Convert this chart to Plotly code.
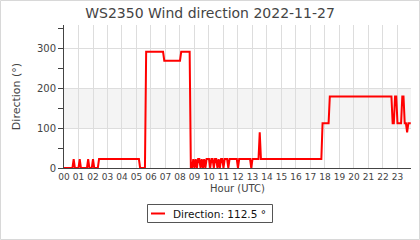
import plotly.graph_objects as go

DAY = "2022-11-27"
times = [
    "00:00", "00:35", "00:40", "00:45", "01:00", "01:05", "01:10", "01:35", "01:40", "01:45",
    "01:55", "02:00", "02:05", "02:20", "02:25", "05:10", "05:15", "05:35", "05:40", "06:50",
    "06:55", "08:00", "08:05", "08:40", "08:45", "08:50", "08:55", "09:00", "09:05", "09:10",
    "09:15", "09:20", "09:25", "09:30", "09:35", "09:40", "09:45", "09:50", "10:00", "10:05",
    "10:10", "10:15", "10:20", "10:25", "10:30", "10:35", "10:40", "10:45", "10:50", "10:55",
    "11:00", "11:05", "11:15", "11:20", "11:25", "11:55", "12:00", "12:05", "12:50", "12:55",
    "13:00", "13:25", "13:30", "13:35", "17:45", "17:50", "18:15", "18:20", "22:35", "22:40",
    "22:45", "22:50", "22:55", "23:00", "23:15", "23:20", "23:25", "23:30", "23:35", "23:40",
    "23:45", "23:55",
]
direction = [
    0, 0, 22.5, 0, 0, 22.5, 0, 0, 22.5, 0,
    0, 22.5, 0, 0, 22.5, 22.5, 0, 0, 292.5, 292.5,
    270, 270, 292.5, 292.5, 0, 0, 22.5, 0, 22.5, 0,
    22.5, 22.5, 0, 22.5, 0, 22.5, 0, 22.5, 22.5, 0,
    22.5, 22.5, 0, 22.5, 22.5, 0, 22.5, 0, 22.5, 22.5,
    0, 22.5, 22.5, 0, 22.5, 22.5, 0, 22.5, 22.5, 0,
    22.5, 22.5, 90, 22.5, 22.5, 112.5, 112.5, 180, 180, 112.5,
    112.5, 180, 180, 112.5, 112.5, 180, 180, 112.5, 112.5, 90,
    112.5, 112.5,
]
x_vals = [f"{DAY} {t}" for t in times]
legend_label = "Direction: 112.5 °"
title_text = "WS2350 Wind direction 2022-11-27"

W, H = 420, 240
ML, MR, MT, MB = 64, 9, 25, 72
pw, ph = W - ML - MR, H - MT - MB


def px_x(p):
    return (p - ML) / pw


def px_y(p):
    return (MT + ph - p) / ph


fig = go.Figure()
fig.add_trace(go.Scatter(x=x_vals, y=direction, mode="lines", name=legend_label,
                         line=dict(color="#ff0000", width=2), showlegend=False))

fig.add_shape(type="rect", xref="paper", yref="y", x0=0, x1=1, y0=100, y1=200,
              fillcolor="#f4f4f4", line=dict(width=0), layer="below")
# outer border
fig.add_shape(type="rect", xref="paper", yref="paper",
              x0=px_x(0.5), x1=px_x(W - 0.5), y0=px_y(H - 0.5), y1=px_y(0.5),
              line=dict(color="#d8d8d8", width=1), fillcolor="rgba(0,0,0,0)", layer="below")
# legend box
fig.add_shape(type="rect", xref="paper", yref="paper",
              x0=px_x(147.5), x1=px_x(272.5), y0=px_y(222.5), y1=px_y(204.5),
              line=dict(color="#555555", width=1), fillcolor="white")
fig.add_shape(type="line", xref="paper", yref="paper",
              x0=px_x(151), x1=px_x(165), y0=px_y(213.5), y1=px_y(213.5),
              line=dict(color="#ff0000", width=2))
fig.add_annotation(xref="paper", yref="paper", x=px_x(171), y=px_y(213.5),
                   xanchor="left", yanchor="middle", showarrow=False,
                   text=legend_label, font=dict(size=10.5, color="#111"))

font = "DejaVu Sans, sans-serif"
fig.update_layout(
    width=W, height=H, margin=dict(l=ML, r=MR, t=MT, b=MB),
    paper_bgcolor="white", plot_bgcolor="white",
    font=dict(family=font, size=10, color="#333"),
    title=dict(text=title_text, x=(210 - ML) / pw, xanchor="center", xref="paper",
               y=1 - 13 / H, yanchor="middle",
               font=dict(size=14, color="#444")),
    showlegend=False,
    xaxis=dict(type="date", range=[f"{DAY} 00:00", f"{DAY} 23:56"],
               dtick=3600000, tickformat="%H", tick0=f"{DAY} 00:00",
               showgrid=True, gridcolor="#dddddd", gridwidth=1,
               showline=True, linecolor="#444", linewidth=1,
               ticks="", tickangle=0, tickfont=dict(size=9, color="#444"),
               title=dict(text="Hour (UTC)", font=dict(size=10, color="#444"), standoff=4),
               zeroline=False, fixedrange=True),
    yaxis=dict(range=[0, 360], tickvals=[0, 100, 200, 300],
               showgrid=True, gridcolor="#dddddd", gridwidth=1,
               showline=True, linecolor="#444", linewidth=1,
               ticks="outside", ticklen=5, tickcolor="#444",
               minor=dict(dtick=50, ticks="outside", ticklen=5, tickcolor="#444", showgrid=False),
               tickfont=dict(size=10, color="#444"),
               title=dict(text="Direction (°)", font=dict(size=11, color="#444"), standoff=14),
               zeroline=False, fixedrange=True),
)
fig.write_html("out.html")
